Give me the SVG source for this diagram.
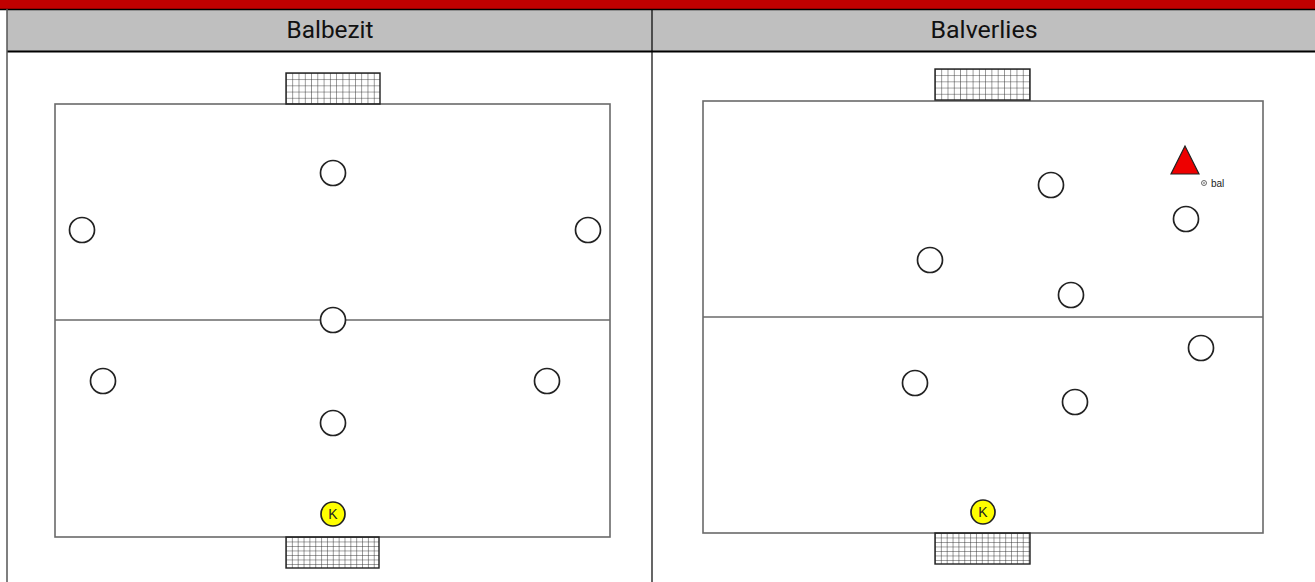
<svg xmlns="http://www.w3.org/2000/svg" width="1315" height="582" viewBox="0 0 1315 582">
<style>
.hdr{font-family:"Roboto","Liberation Sans",sans-serif;font-size:23px;fill:#111;text-anchor:middle}
.field{fill:#fff;stroke:#6a6a6a;stroke-width:1.6}
.mid{stroke:#6a6a6a;stroke-width:1.6}
.pl{fill:#fff;stroke:#222;stroke-width:1.7}
.kp{fill:#ffff00;stroke:#222;stroke-width:1.7}
.kt{font-family:"Liberation Sans",Arial,sans-serif;font-size:14px;fill:#222;text-anchor:middle}
.goal{stroke:#222;stroke-width:1.4}
.lbl{font-family:"Liberation Sans",Arial,sans-serif;font-size:10px;fill:#222}
</style>
<defs>
<pattern id="netA" patternUnits="userSpaceOnUse" x="0" y="0" width="6.27" height="6.2">
<path d="M0 0H6.27M0 0V6.2" stroke="#333" stroke-width="1" fill="none"/>
</pattern>
<pattern id="netB" patternUnits="userSpaceOnUse" x="0" y="0" width="5.85" height="4.5">
<path d="M0 0H5.85M0 0V4.5" stroke="#333" stroke-width="1" fill="none"/>
</pattern>
</defs>
<rect x="0" y="0" width="1315" height="582" fill="#fff"/>
<g id="header">
<rect x="0" y="0" width="1315" height="9" fill="#c00000"/>
<rect x="7" y="10" width="1308" height="41" fill="#bfbfbf"/>
<line x1="0" y1="9.5" x2="1315" y2="9.5" stroke="#000" stroke-width="1.5"/>
<line x1="7" y1="51.5" x2="1315" y2="51.5" stroke="#000" stroke-width="2"/>
<line x1="7" y1="9" x2="7" y2="582" stroke="#555" stroke-width="1.5"/>
<line x1="652" y1="9" x2="652" y2="582" stroke="#000" stroke-width="1.2"/>
<text class="hdr" x="330" y="38" textLength="87" lengthAdjust="spacingAndGlyphs">Balbezit</text>
<text class="hdr" x="984" y="38" textLength="107" lengthAdjust="spacingAndGlyphs">Balverlies</text>
</g>
<g id="left-field">
<rect class="field" x="55" y="104" width="555" height="433"/>
<line class="mid" x1="55" y1="320" x2="610" y2="320"/>
<g transform="translate(286,73)"><rect width="94" height="31" fill="url(#netA)" class="goal"/></g>
<g transform="translate(286,537)"><rect width="93" height="31" fill="url(#netB)" class="goal"/></g>
</g>
<g id="left-players">
<circle class="pl" cx="333" cy="173" r="12.5"/>
<circle class="pl" cx="82" cy="230" r="12.5"/>
<circle class="pl" cx="588" cy="230" r="12.5"/>
<circle class="pl" cx="333" cy="320" r="12.5"/>
<circle class="pl" cx="103" cy="381" r="12.5"/>
<circle class="pl" cx="547" cy="381" r="12.5"/>
<circle class="pl" cx="333" cy="423" r="12.5"/>
<g id="left-keeper"><circle class="kp" cx="333" cy="514" r="12"/><text class="kt" x="333" y="519">K</text></g>
</g>
<g id="right-field">
<rect class="field" x="703" y="101" width="560" height="432"/>
<line class="mid" x1="703" y1="317" x2="1263" y2="317"/>
<g transform="translate(935,69)"><rect width="95" height="31" fill="url(#netA)" class="goal"/></g>
<g transform="translate(935,533)"><rect width="95" height="31" fill="url(#netB)" class="goal"/></g>
</g>
<g id="right-players">
<circle class="pl" cx="1051" cy="185" r="12.5"/>
<circle class="pl" cx="1186" cy="219" r="12.5"/>
<circle class="pl" cx="930" cy="260" r="12.5"/>
<circle class="pl" cx="1071" cy="295" r="12.5"/>
<circle class="pl" cx="1201" cy="348" r="12.5"/>
<circle class="pl" cx="915" cy="383" r="12.5"/>
<circle class="pl" cx="1075" cy="402" r="12.5"/>
<g id="right-keeper"><circle class="kp" cx="983" cy="512" r="12"/><text class="kt" x="983" y="517">K</text></g>
</g>
<g id="opponent">
<polygon points="1185,146 1171,174 1199,174" fill="#ee0000" stroke="#222" stroke-width="1.2"/>
<circle cx="1204" cy="183" r="2.5" fill="#fff" stroke="#444" stroke-width="0.8"/>
<circle cx="1204" cy="183" r="0.8" fill="#444"/>
<text class="lbl" x="1211" y="187">bal</text>
</g>
</svg>
